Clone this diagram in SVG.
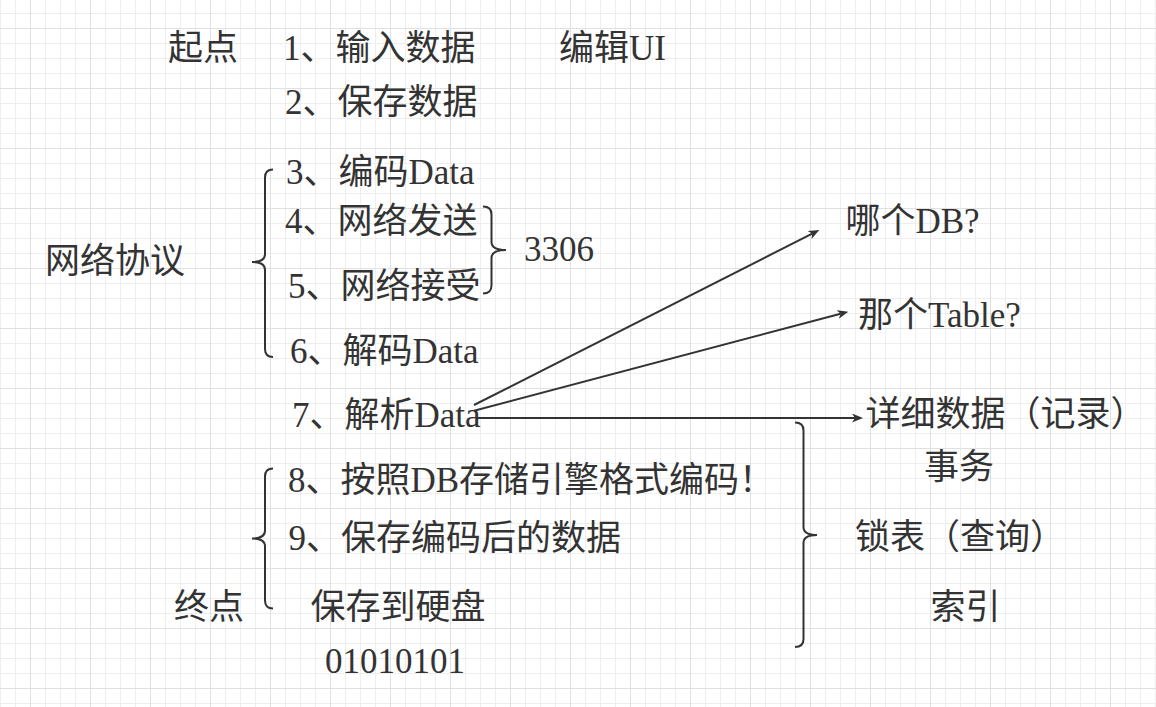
<svg xmlns="http://www.w3.org/2000/svg" width="1156" height="707" viewBox="0 0 1156 707">
  <style>
    .t { font-family: "Liberation Serif", "Noto Sans CJK SC", serif; font-size: 35px; fill: #333333; }
    .brace { fill: none; stroke: #333333; stroke-width: 2; }
    .edge { fill: none; stroke: #333333; stroke-width: 2; }
  </style>
  <defs>
    <pattern id="grid" x="30" y="28" width="60" height="60" patternUnits="userSpaceOnUse">
      <rect x="15" y="0" width="1" height="60" fill="#eeeeee"/>
      <rect x="30" y="0" width="1" height="60" fill="#eeeeee"/>
      <rect x="45" y="0" width="1" height="60" fill="#eeeeee"/>
      <rect x="0" y="15" width="60" height="1" fill="#eeeeee"/>
      <rect x="0" y="30" width="60" height="1" fill="#eeeeee"/>
      <rect x="0" y="45" width="60" height="1" fill="#eeeeee"/>
      <rect x="0" y="0" width="1" height="60" fill="#e0e0e0"/>
      <rect x="0" y="0" width="60" height="1" fill="#e0e0e0"/>
    </pattern>
    <marker id="arrow" markerUnits="userSpaceOnUse" markerWidth="12" markerHeight="10" refX="3" refY="4.5" orient="auto">
      <path d="M0,0 L11,4.5 L0,9 L3,4.5 Z" fill="#333333"/>
    </marker>
  </defs>
  <rect width="1156" height="707" fill="#ffffff"/>
  <rect width="1156" height="707" fill="url(#grid)"/>

  <g id="start"><text class="t" x="168" y="60">起点</text></g>
  <g id="step1"><text class="t" x="283" y="60">1、输入数据</text></g>
  <g id="editui"><text class="t" x="559" y="60">编辑UI</text></g>
  <g id="step2"><text class="t" x="285" y="114">2、保存数据</text></g>
  <g id="step3"><text class="t" x="286" y="183.5">3、编码Data</text></g>
  <g id="step4"><text class="t" x="285" y="233">4、网络发送</text></g>
  <g id="step5"><text class="t" x="288" y="298">5、网络接受</text></g>
  <g id="step6"><text class="t" x="290" y="362.5">6、解码Data</text></g>
  <g id="step7"><text class="t" x="292" y="426.5">7、解析Data</text></g>
  <g id="step8"><text class="t" x="288" y="491.5">8、按照DB存储引擎格式编码！</text></g>
  <g id="step9"><text class="t" x="288.5" y="550">9、保存编码后的数据</text></g>
  <g id="disk"><text class="t" x="310.5" y="619">保存到硬盘</text></g>
  <g id="binary"><text class="t" x="325" y="673">01010101</text></g>
  <g id="end"><text class="t" x="174" y="619">终点</text></g>
  <g id="protocol"><text class="t" x="45" y="272.5">网络协议</text></g>
  <g id="port"><text class="t" x="524" y="261">3306</text></g>
  <g id="whichdb"><text class="t" x="845.5" y="233">哪个DB?</text></g>
  <g id="whichtable"><text class="t" x="858" y="327">那个Table?</text></g>
  <g id="records"><text class="t" x="865.5" y="425.5">详细数据（记录）</text></g>
  <g id="transaction"><text class="t" x="924" y="479">事务</text></g>
  <g id="locktable"><text class="t" x="855" y="549">锁表（查询）</text></g>
  <g id="index"><text class="t" x="930.5" y="619">索引</text></g>

  <g id="brace-protocol"><path class="brace" d="M273,169.5 Q265,169.5 265,177.5 L265,254 Q265,262 252,262 Q265,262 265,270 L265,349 Q265,357 273,357"/></g>
  <g id="brace-port"><path class="brace" d="M483,206.5 Q491.5,206.5 491.5,214.5 L491.5,242 Q491.5,250 506,250 Q491.5,250 491.5,258 L491.5,285.5 Q491.5,293.5 483,293.5"/></g>
  <g id="brace-end"><path class="brace" d="M273,468.5 Q265,468.5 265,476.5 L265,530.5 Q265,538.5 252,538.5 Q265,538.5 265,546.5 L265,600.5 Q265,608.5 273,608.5"/></g>
  <g id="brace-records"><path class="brace" d="M795,422.5 Q803.5,422.5 803.5,430.5 L803.5,527 Q803.5,535 817,535 Q803.5,535 803.5,543 L803.5,639 Q803.5,647 795,647"/></g>

  <g id="connectors">
    <path class="edge" d="M474,405 L812.2,233.6" marker-end="url(#arrow)"/>
    <path class="edge" d="M474,410.7 L840.6,313.7" marker-end="url(#arrow)"/>
    <path class="edge" d="M477,418 L855,418" marker-end="url(#arrow)"/>
  </g>
</svg>
